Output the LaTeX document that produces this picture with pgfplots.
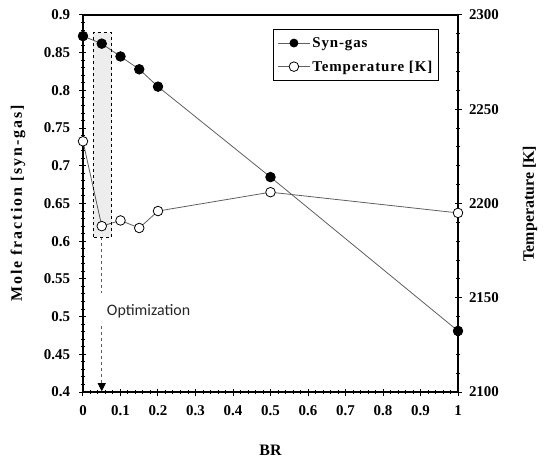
\documentclass[border=0pt]{standalone}
\usepackage{fontspec}
\setmainfont{Liberation Serif}
\newfontfamily\carlito{Carlito}
\usepackage{pgfplots}
\usepackage{pgfplotstable}
\pgfplotsset{compat=1.18}
\usetikzlibrary{arrows.meta}

\pgfplotstableread{
x y
0 0.872
0.05 0.862
0.1 0.845
0.15 0.828
0.2 0.805
0.5 0.685
1 0.481
}\syngas
\pgfplotstableread{
x y
0 2233
0.05 2188
0.1 2191
0.15 2187
0.2 2196
0.5 2206
1 2195
}\temp

\definecolor{linegray}{RGB}{95,95,95}
\pgfplotsset{
  mybase/.style={
    scale only axis, width=375bp, height=377bp,
    xmin=0, xmax=1, clip=false,
    axis line style={line width=1.4bp},
    tick style={black, line width=1bp},
    major tick length=7bp, minor tick length=4bp,
    tick align=center,
    ticklabel style={font=\bfseries\fontsize{15}{15}\selectfont},
    /pgf/number format/assume math mode=true,
    /pgf/number format/1000 sep={},
    xticklabel={\pgfmathprintnumber{\tick}},
    yticklabel={\pgfmathprintnumber{\tick}},
  }
}

\begin{document}
\begin{tikzpicture}
\useasboundingbox (-83bp,-68bp) rectangle (465bp,392bp);
\begin{axis}[mybase,
  ymin=0.4, ymax=0.9,
  ytick={0.4,0.45,0.5,0.55,0.6,0.65,0.7,0.75,0.8,0.85,0.9},
  xtick={0,0.1,0.2,0.3,0.4,0.5,0.6,0.7,0.8,0.9,1},
  minor tick num=4,
  xtick pos=bottom, ytick pos=left,
  yticklabel style={/pgf/number format/fixed, /pgf/number format/precision=2, xshift=-6bp},
  xticklabel style={/pgf/number format/fixed, /pgf/number format/precision=1, yshift=-7bp},
]
\addplot[linegray, line width=0.8bp, mark=*, mark size=4.8bp,
  mark options={fill=black, draw=black}] table[x=x,y=y] {\syngas};
\draw[dashed, linegray, line width=0.9bp] (axis cs:0.05,0.605) -- (axis cs:0.05,0.531);
\draw[dashed, linegray, line width=0.9bp, -{Triangle[length=8bp,width=8bp,color=black,fill=black]}] (axis cs:0.05,0.487) -- (axis cs:0.05,0.401);
\node[font=\carlito\fontsize{16}{16}\selectfont, text=black!85] at (axis cs:0.175,0.507) {Optimization};
\end{axis}
\begin{axis}[mybase,
  ymin=2100, ymax=2300,
  ytick={2100,2150,2200,2250,2300},
  minor y tick num=4,
  scaled y ticks=false,
  axis y line*=right, axis x line=none,
  yticklabel style={xshift=4bp},
  legend style={at={(0.507,0.963)}, anchor=north west, draw=black, line width=0.8bp,
    font=\bfseries\fontsize{15}{15}\selectfont\addfontfeature{LetterSpace=6},
    row sep=8bp, inner xsep=4bp, inner ysep=6bp},
  legend cell align=left,
  legend image code/.code={
    \draw[#1] (0bp,0bp) -- (32bp,0bp);
    \draw[#1, mark repeat=1] plot coordinates {(16bp,0bp)};
  },
]
\addlegendimage{linegray, line width=0.8bp, mark=*, mark size=4bp, mark options={fill=black, draw=black}}
\addlegendentry{Syn-gas}
\addplot[linegray, line width=0.8bp, mark=*, mark size=4.8bp,
  mark options={fill=white, draw=black}] table[x=x,y=y] {\temp};
\addlegendentry{Temperature [K]}
\fill[black, opacity=0.07] (axis cs:0.027,2182) rectangle (axis cs:0.076,2290.6);
\draw[dashed, black, line width=0.9bp] (axis cs:0.027,2182) rectangle (axis cs:0.076,2290.6);
\end{axis}
\node[rotate=90, font=\bfseries\fontsize{16}{16}\selectfont\addfontfeature{LetterSpace=12}] at (-65bp,188.5bp) {Mole fraction [syn-gas]};
\node[rotate=90, font=\bfseries\fontsize{16}{16}\selectfont] at (447bp,188.5bp) {Temperature [K]};
\node[font=\bfseries\fontsize{16}{16}\selectfont] at (187.5bp,-58bp) {BR};
\end{tikzpicture}
\end{document}
